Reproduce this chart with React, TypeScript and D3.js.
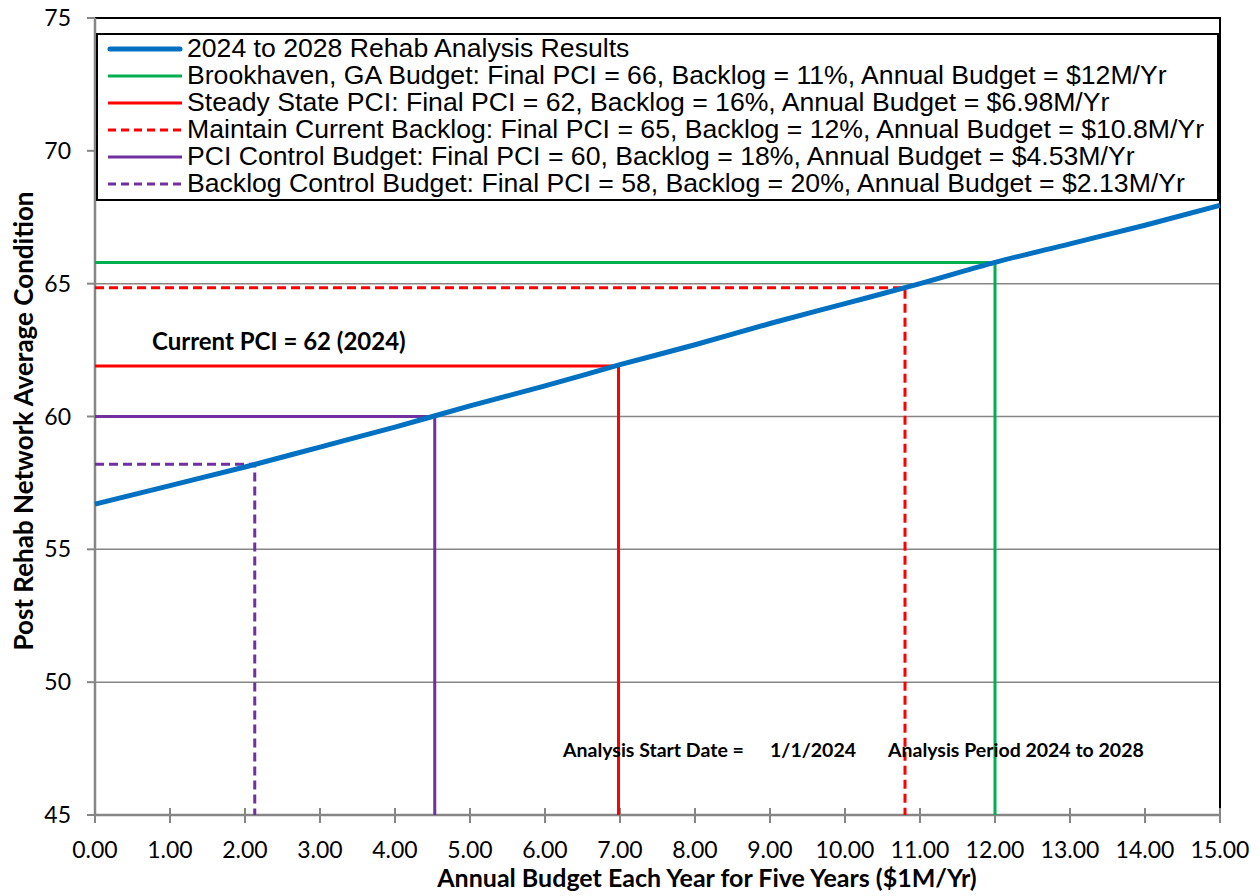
import React from "react";
import * as d3 from "d3";

// Curve: 2024 to 2028 Rehab Analysis Results
const curveBudget = [0, 1, 2, 3, 4, 5, 6, 7, 8, 9, 10, 11, 12, 13, 14, 15];
const curvePci = [56.7, 57.4, 58.1, 58.85, 59.6, 60.4, 61.15, 61.95, 62.7, 63.5, 64.25, 65.0, 65.8, 66.5, 67.2, 67.95];

// Scenario budgets and the PCI at which each meets the curve
const scenarioNames = [
  "Brookhaven, GA Budget: Final PCI = 66, Backlog = 11%, Annual Budget = $12M/Yr",
  "Steady State PCI: Final PCI = 62, Backlog = 16%, Annual Budget = $6.98M/Yr",
  "Maintain Current Backlog: Final PCI = 65, Backlog = 12%, Annual Budget = $10.8M/Yr",
  "PCI Control Budget: Final PCI = 60, Backlog = 18%, Annual Budget = $4.53M/Yr",
  "Backlog Control Budget: Final PCI = 58, Backlog = 20%, Annual Budget = $2.13M/Yr",
];
const scenarioBudget = [12, 6.98, 10.8, 4.53, 2.13];
const scenarioPci = [65.8, 61.9, 64.85, 60.0, 58.2];
const scenarioColor = ["#00B050", "#FF0000", "#FF0000", "#7030A0", "#7030A0"];
const scenarioDashed = [false, false, true, false, true];

const curveName = "2024 to 2028 Rehab Analysis Results";
const xTicks = d3.range(0, 16, 1);
const yTicks = [45, 50, 55, 60, 65, 70, 75];

const W = 1260;
const H = 896;
const L = 95, R = 1220, T = 18, B = 815;

export default function App() {
  const x = d3.scaleLinear().domain([0, 15]).range([L, R]);
  const y = d3.scaleLinear().domain([45, 75]).range([B, T]);
  const line = d3
    .line<number>()
    .x((_, i) => x(curveBudget[i]))
    .y((d) => y(d))
    .curve(d3.curveMonotoneX);

  const calibri = "Lato, 'Open Sans', sans-serif";
  const arial = "'Liberation Sans', Arial, sans-serif";
  const gray = "#868686";

  const legendX0 = 97, legendX1 = 1218, legendY0 = 34, legendY1 = 200;
  const rowY = (i: number) => 49 + i * 27;
  const legendText = (txt: string, i: number) => (
    <text
      transform={`translate(187,${rowY(i) + 7.5}) scale(1.065,1)`}
      fontFamily={arial}
      fontSize={25}
      fill="#000"
    >
      {txt}
    </text>
  );

  return (
    <div style={{ position: "absolute", left: 0, top: 0 }}>
      <svg width={W} height={H} style={{ display: "block", background: "#fff" }}>
        {/* gridlines */}
        {yTicks.filter((t) => t > 45 && t < 75).map((t) => (
          <line key={"g" + t} x1={L} x2={R} y1={y(t)} y2={y(t)} stroke={gray} strokeWidth={1.5} />
        ))}
        {/* top and right border */}
        <line x1={L} x2={R + 1} y1={T} y2={T} stroke="#000" strokeWidth={2} />
        <line x1={R} x2={R} y1={T} y2={B} stroke="#000" strokeWidth={2} />
        {/* axes */}
        <line x1={L} x2={L} y1={T} y2={B} stroke={gray} strokeWidth={2.5} />
        <line x1={L} x2={R} y1={B} y2={B} stroke={gray} strokeWidth={2.5} />
        {yTicks.map((t) => (
          <g key={"yt" + t}>
            <line x1={L - 8} x2={L} y1={y(t)} y2={y(t)} stroke={gray} strokeWidth={2} />
            <text x={71} y={y(t) + 8} textAnchor="end" fontFamily={calibri} fontSize={23} fill="#000">
              {t}
            </text>
          </g>
        ))}
        {xTicks.map((t) => (
          <g key={"xt" + t}>
            <line x1={x(t)} x2={x(t)} y1={B - 7} y2={B + 8} stroke={gray} strokeWidth={2} />
            <text x={x(t)} y={858} textAnchor="middle" fontFamily={calibri} fontSize={23} fill="#000">
              {t.toFixed(2)}
            </text>
          </g>
        ))}

        {/* scenario lines */}
        {scenarioBudget.map((b, i) => (
          <path
            key={"s" + i}
            d={`M${x(0)},${y(scenarioPci[i])}H${x(b)}V${y(45)}`}
            fill="none"
            stroke={scenarioColor[i]}
            strokeWidth={3}
            strokeDasharray={scenarioDashed[i] ? "9,5" : undefined}
          />
        ))}

        {/* curve */}
        <path d={line(curvePci) || ""} fill="none" stroke="#0070C0" strokeWidth={5} />

        {/* annotations */}
        <text x={152} y={350} fontFamily={calibri} fontWeight="bold" fontSize={24} fill="#000">
          Current PCI = 62 (2024)
        </text>
        <text x={563} y={757} fontFamily={calibri} fontWeight="bold" fontSize={19.5} fill="#000">
          Analysis Start Date =
        </text>
        <text x={770} y={757} fontFamily={calibri} fontWeight="bold" fontSize={19.5} fill="#000">
          1/1/2024
        </text>
        <text x={888} y={757} fontFamily={calibri} fontWeight="bold" fontSize={19.5} fill="#000">
          Analysis Period 2024 to 2028
        </text>

        {/* legend */}
        <rect x={legendX0} y={legendY0} width={legendX1 - legendX0} height={legendY1 - legendY0} fill="#fff" stroke="#000" strokeWidth={2} />
        <line x1={110} x2={180} y1={rowY(0)} y2={rowY(0)} stroke="#0070C0" strokeWidth={5} strokeLinecap="round" />
        {legendText(curveName, 0)}
        {scenarioNames.map((n, i) => (
          <g key={"l" + i}>
            <line
              x1={108}
              x2={182}
              y1={rowY(i + 1)}
              y2={rowY(i + 1)}
              stroke={scenarioColor[i]}
              strokeWidth={3}
              strokeDasharray={scenarioDashed[i] ? "8,5" : undefined}
            />
            {legendText(n, i + 1)}
          </g>
        ))}

        {/* axis titles */}
        <text x={707} y={887} textAnchor="middle" fontFamily={calibri} fontWeight="bold" fontSize={25} fill="#000">
          Annual Budget Each Year for Five Years ($1M/Yr)
        </text>
        <text
          transform={`translate(33,421) rotate(-90)`}
          textAnchor="middle"
          fontFamily={calibri}
          fontWeight="bold"
          fontSize={26}
          fill="#000"
        >
          Post Rehab Network Average Condition
        </text>
      </svg>
    </div>
  );
}
